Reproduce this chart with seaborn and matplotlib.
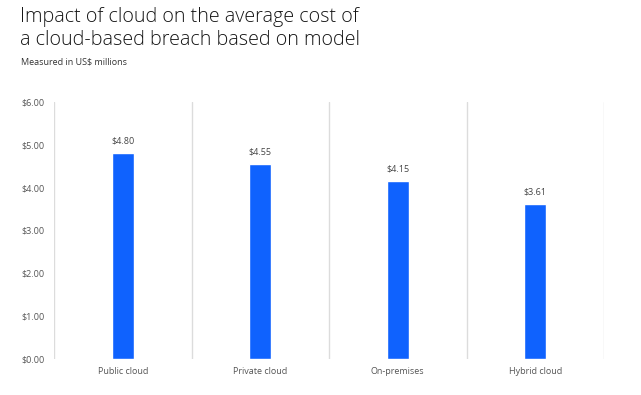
import matplotlib
matplotlib.use('Agg')
import matplotlib.pyplot as plt
import seaborn as sns
import pandas as pd
import numpy as np

models = ["Public cloud", "Private cloud", "On-premises", "Hybrid cloud"]
costs = [4.80, 4.55, 4.15, 3.61]
yticks = [0, 1, 2, 3, 4, 5, 6]

BLUE = "#0F62FE"
GRID = "#dcdcdc"
TXT = "#555555"

sns.set_theme(style="white")
plt.rcParams['font.family'] = ['Open Sans', 'DejaVu Sans']

df = pd.DataFrame({"model": models, "cost": costs})

fig = plt.figure(figsize=(6.41, 3.95), dpi=100, facecolor='white')
ax = fig.add_axes([54 / 641, 1 - 359 / 395, 550 / 641, 257 / 395])

sns.barplot(data=df, x="model", y="cost", color=BLUE, width=0.16, saturation=1, ax=ax)

ax.set_xlim(-0.5, len(models) - 0.5)
ax.set_ylim(0, 6)
for b in np.arange(-0.5, len(models), 1.0):
    ax.axvline(b, color=GRID, lw=1, zorder=0)

for i, v in enumerate(costs):
    ax.text(i, v + 0.18, f"${v:.2f}", ha='center', va='bottom', fontsize=6.5, color="#444444")

ax.set_yticks(yticks)
ax.set_yticklabels([f"${t:.2f}" for t in yticks], fontsize=6.5, color=TXT)
ax.tick_params(axis='x', labelsize=6.5, colors=TXT, length=0, pad=6)
ax.tick_params(axis='y', length=0, pad=7)
for lbl in ax.get_xticklabels():
    lbl.set_color(TXT)
ax.set_xlabel("")
ax.set_ylabel("")
sns.despine(ax=ax, left=True, bottom=True)

fig.text(20 / 641, 1 - 7 / 395, "Impact of cloud on the average cost of\na cloud-based breach based on model",
         ha='left', va='top', fontsize=14.2, fontweight='light', color="#161616", linespacing=1.2)
fig.text(21 / 641, 1 - 62 / 395, "Measured in US$ millions", ha='left', va='center',
         fontsize=6.5, color="#333333")

plt.savefig("out.png", dpi=100)
